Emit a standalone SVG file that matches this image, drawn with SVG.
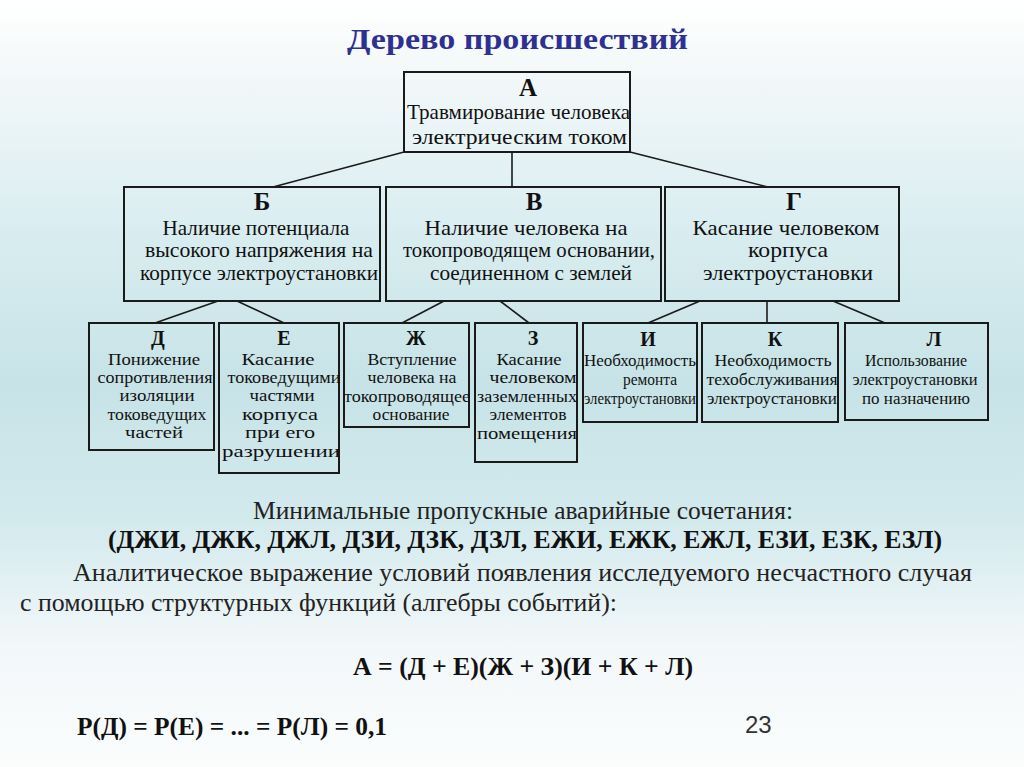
<svg xmlns="http://www.w3.org/2000/svg" width="1024" height="767" viewBox="0 0 1024 767">
<defs>
<linearGradient id="bg" x1="0" y1="0" x2="0" y2="1">
<stop offset="0" stop-color="#ffffff"/>
<stop offset="0.08" stop-color="#f5f9fa"/>
<stop offset="0.3" stop-color="#d9edf0"/>
<stop offset="0.5" stop-color="#c7e3e7"/>
<stop offset="0.68" stop-color="#d3eaed"/>
<stop offset="0.84" stop-color="#f2f7f9"/>
<stop offset="1" stop-color="#fbfdfd"/>
</linearGradient>
<style>
text{font-family:'Liberation Serif','Times New Roman','DejaVu Serif',serif}
.box{fill:none;stroke:#1a1a1a;stroke-width:2}
.ln{stroke:#1a1a1a;stroke-width:1.6;fill:none}
.big{font-weight:bold;font-size:25px;fill:#111;text-anchor:middle}
.mid{font-size:21px;fill:#111;text-anchor:middle}
.let{font-weight:bold;font-size:20px;fill:#111;text-anchor:middle}
.sm{font-size:16px;fill:#111;text-anchor:middle}
.body{font-size:25px;fill:#222}
.bold{font-weight:bold;font-size:25px;fill:#111}
.num{font-family:'Liberation Sans',Arial,sans-serif;font-size:24px;fill:#333}
</style>
</defs>
<rect x="0" y="0" width="1024" height="767" fill="url(#bg)"/>
<text x="347" y="49" font-weight="bold" font-size="29" fill="#2e3192" textLength="341" lengthAdjust="spacingAndGlyphs">Дерево происшествий</text>

<g id="connectors">
<line class="ln" x1="404" y1="152" x2="273" y2="187"/>
<line class="ln" x1="512" y1="152" x2="512" y2="187"/>
<line class="ln" x1="630" y1="152" x2="768" y2="187"/>
<line class="ln" x1="218" y1="301" x2="155" y2="323"/>
<line class="ln" x1="237" y1="301" x2="284" y2="323"/>
<line class="ln" x1="444" y1="301" x2="402" y2="323"/>
<line class="ln" x1="500" y1="301" x2="529" y2="323"/>
<line class="ln" x1="700" y1="301" x2="648" y2="323"/>
<line class="ln" x1="767" y1="301" x2="767" y2="323"/>
<line class="ln" x1="833" y1="301" x2="885" y2="323"/>
</g>

<g id="node-A">
<rect class="box" x="404" y="72" width="226" height="80"/>
<text class="big" x="528" y="96">А</text>
<text class="mid" x="518.5" y="119" textLength="223" lengthAdjust="spacingAndGlyphs">Травмирование человека</text>
<text class="mid" x="519.5" y="144" textLength="215" lengthAdjust="spacingAndGlyphs">электрическим током</text>
</g>

<g id="node-B">
<rect class="box" x="124" y="187" width="256" height="114"/>
<text class="big" x="262" y="210">Б</text>
<text class="mid" x="256" y="235" textLength="187" lengthAdjust="spacingAndGlyphs">Наличие потенциала</text>
<text class="mid" x="259" y="257" textLength="228" lengthAdjust="spacingAndGlyphs">высокого напряжения на</text>
<text class="mid" x="259" y="280" textLength="238" lengthAdjust="spacingAndGlyphs">корпусе электроустановки</text>
</g>

<g id="node-V">
<rect class="box" x="386" y="187" width="275" height="114"/>
<text class="big" x="534" y="210">В</text>
<text class="mid" x="526" y="235" textLength="203" lengthAdjust="spacingAndGlyphs">Наличие человека на</text>
<text class="mid" x="529" y="257" textLength="252" lengthAdjust="spacingAndGlyphs">токопроводящем основании,</text>
<text class="mid" x="531" y="280" textLength="202" lengthAdjust="spacingAndGlyphs">соединенном с землей</text>
</g>

<g id="node-G">
<rect class="box" x="665" y="187" width="234" height="114"/>
<text class="big" x="794" y="210">Г</text>
<text class="mid" x="786" y="235" textLength="187" lengthAdjust="spacingAndGlyphs">Касание человеком</text>
<text class="mid" x="788" y="257" textLength="80" lengthAdjust="spacingAndGlyphs">корпуса</text>
<text class="mid" x="788" y="280" textLength="170" lengthAdjust="spacingAndGlyphs">электроустановки</text>
</g>

<g id="node-D">
<rect class="box" x="89" y="323" width="125" height="127"/>
<text class="let" x="158" y="345">Д</text>
<text class="sm" x="154" y="365" textLength="92" lengthAdjust="spacingAndGlyphs">Понижение</text>
<text class="sm" x="155" y="383" textLength="115" lengthAdjust="spacingAndGlyphs">сопротивления</text>
<text class="sm" x="157" y="401" textLength="75" lengthAdjust="spacingAndGlyphs">изоляции</text>
<text class="sm" x="157" y="420" textLength="99" lengthAdjust="spacingAndGlyphs">токоведущих</text>
<text class="sm" x="154" y="438" textLength="58" lengthAdjust="spacingAndGlyphs">частей</text>
</g>

<g id="node-E">
<rect class="box" x="219" y="323" width="120" height="150"/>
<text class="let" x="284" y="345">Е</text>
<text class="sm" x="278" y="365" textLength="73" lengthAdjust="spacingAndGlyphs">Касание</text>
<text class="sm" x="284" y="383" textLength="113" lengthAdjust="spacingAndGlyphs">токоведущими</text>
<text class="sm" x="282" y="401" textLength="65" lengthAdjust="spacingAndGlyphs">частями</text>
<text class="sm" x="280" y="420" textLength="76" lengthAdjust="spacingAndGlyphs">корпуса</text>
<text class="sm" x="280" y="438" textLength="70" lengthAdjust="spacingAndGlyphs">при его</text>
<text class="sm" x="281" y="457" textLength="118" lengthAdjust="spacingAndGlyphs">разрушении</text>
</g>

<g id="node-ZH">
<rect class="box" x="344" y="323" width="125" height="104"/>
<text class="let" x="416" y="345">Ж</text>
<text class="sm" x="412" y="365" textLength="89" lengthAdjust="spacingAndGlyphs">Вступление</text>
<text class="sm" x="412" y="383" textLength="89" lengthAdjust="spacingAndGlyphs">человека на</text>
<text class="sm" x="407" y="402" textLength="126" lengthAdjust="spacingAndGlyphs">токопроводящее</text>
<text class="sm" x="411" y="420" textLength="77" lengthAdjust="spacingAndGlyphs">основание</text>
</g>

<g id="node-Z">
<rect class="box" x="475" y="323" width="102" height="139"/>
<text class="let" x="533" y="345">З</text>
<text class="sm" x="529" y="365" textLength="65" lengthAdjust="spacingAndGlyphs">Касание</text>
<text class="sm" x="533" y="383" textLength="87" lengthAdjust="spacingAndGlyphs">человеком</text>
<text class="sm" x="527" y="402" textLength="100" lengthAdjust="spacingAndGlyphs">заземленных</text>
<text class="sm" x="528" y="420" textLength="77" lengthAdjust="spacingAndGlyphs">элементов</text>
<text class="sm" x="527" y="439" textLength="100" lengthAdjust="spacingAndGlyphs">помещения</text>
</g>

<g id="node-I">
<rect class="box" x="583" y="323" width="114" height="99"/>
<text class="let" x="648" y="346">И</text>
<text class="sm" x="640" y="366" textLength="112" lengthAdjust="spacingAndGlyphs">Необходимость</text>
<text class="sm" x="650" y="385" textLength="54" lengthAdjust="spacingAndGlyphs">ремонта</text>
<text class="sm" x="640" y="404" textLength="112" lengthAdjust="spacingAndGlyphs">электроустановки</text>
</g>

<g id="node-K">
<rect class="box" x="702" y="323" width="136" height="99"/>
<text class="let" x="775" y="346">К</text>
<text class="sm" x="773" y="366" textLength="117" lengthAdjust="spacingAndGlyphs">Необходимость</text>
<text class="sm" x="772" y="385" textLength="131" lengthAdjust="spacingAndGlyphs">техобслуживания</text>
<text class="sm" x="772" y="404" textLength="130" lengthAdjust="spacingAndGlyphs">электроустановки</text>
</g>

<g id="node-L">
<rect class="box" x="845" y="323" width="143" height="97"/>
<text class="let" x="934" y="346">Л</text>
<text class="sm" x="916" y="366" textLength="102" lengthAdjust="spacingAndGlyphs">Использование</text>
<text class="sm" x="915" y="385" textLength="125" lengthAdjust="spacingAndGlyphs">электроустановки</text>
<text class="sm" x="916" y="404" textLength="108" lengthAdjust="spacingAndGlyphs">по назначению</text>
</g>

<text class="body" x="253" y="519" textLength="540" lengthAdjust="spacingAndGlyphs">Минимальные пропускные аварийные сочетания:</text>
<text class="bold" x="108" y="548" textLength="834" lengthAdjust="spacingAndGlyphs">(ДЖИ, ДЖК, ДЖЛ, ДЗИ, ДЗК, ДЗЛ, ЕЖИ, ЕЖК, ЕЖЛ, ЕЗИ, ЕЗК, ЕЗЛ)</text>
<text class="body" x="73" y="581" textLength="899" lengthAdjust="spacingAndGlyphs">Аналитическое выражение условий появления исследуемого несчастного случая</text>
<text class="body" x="20" y="611" textLength="597" lengthAdjust="spacingAndGlyphs">с помощью структурных функций (алгебры событий):</text>
<text class="bold" x="353" y="675" textLength="340" lengthAdjust="spacingAndGlyphs">А = (Д + Е)(Ж + З)(И + К + Л)</text>
<text class="bold" x="77" y="735" textLength="310" lengthAdjust="spacingAndGlyphs">Р(Д) = Р(Е) = ... = Р(Л) = 0,1</text>
<text class="num" x="745" y="733">23</text>
</svg>
